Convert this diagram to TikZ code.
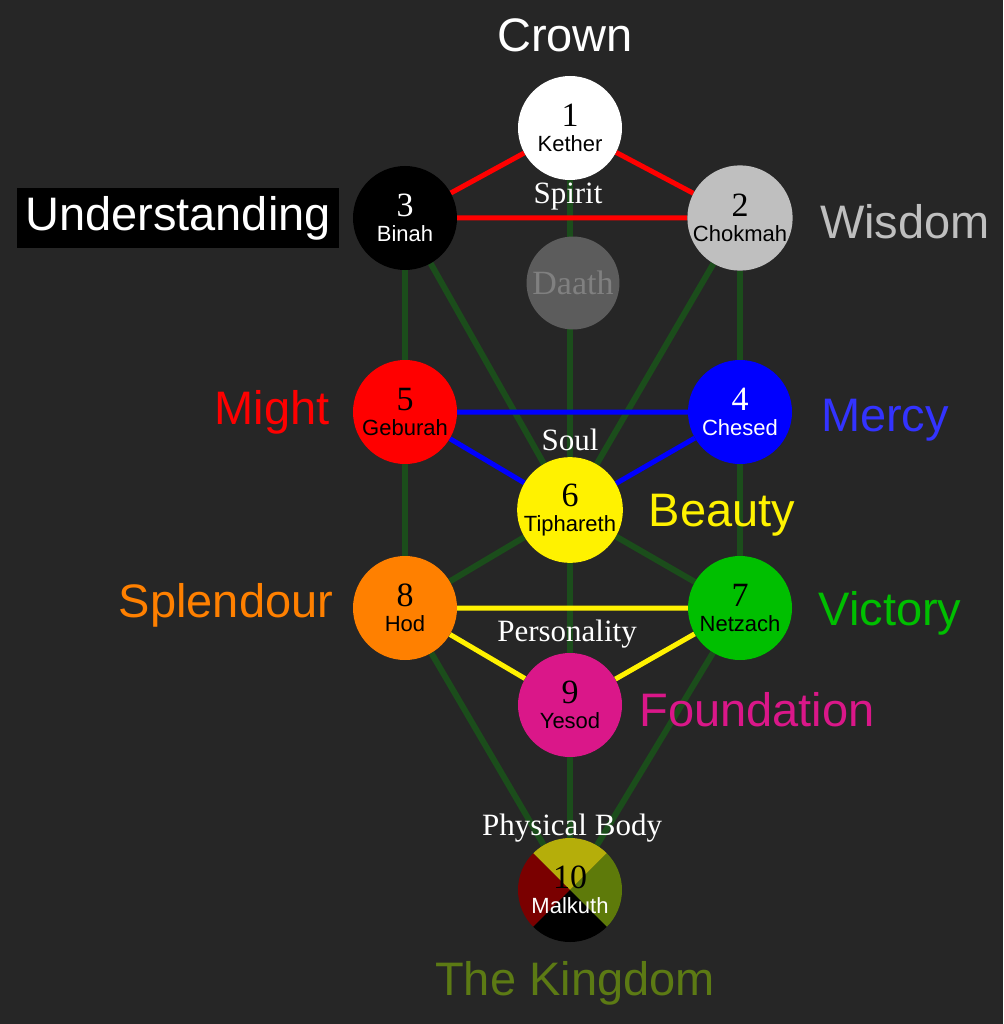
\documentclass[tikz,border=0pt]{standalone}
\usepackage{fontspec}
\setmainfont{Liberation Sans}
\newfontfamily\papyr{Liberation Serif}
\usetikzlibrary{positioning}
\definecolor{bgdark}{HTML}{262626}
\definecolor{pathgreen}{HTML}{1B4D1B}
\definecolor{kingolive}{HTML}{5C7A14}
\definecolor{mqtop}{HTML}{B5AE0A}
\definecolor{mqleft}{HTML}{7A0000}
\definecolor{mqright}{HTML}{5E7A0A}
\pgfdeclarelayer{bg}
\pgfsetlayers{bg,main}
\newcommand{\numf}{\papyr\fontsize{34}{34}\selectfont}
\newcommand{\namef}{\fontsize{22}{24}\selectfont}
\begin{document}
\begin{tikzpicture}[x=1pt,y=-1pt,
  sephira/.style={circle,minimum size=104pt,inner sep=0pt,align=center},
  title/.style={font=\fontsize{47}{49}\selectfont},
  path label/.style={font=\papyr\fontsize{31}{33}\selectfont,text=white},
  green path/.style={line width=6pt,pathgreen},
  red path/.style={line width=5pt,red},
  blue path/.style={line width=5pt,blue},
  yellow path/.style={line width=5pt,yellow}]

  \node[sephira,fill=white,text=black] (1) at (570,128) {{\numf 1}\\[8pt]{\namef Kether}};
  \node[sephira,fill=black,text=white] (3) at (405,218) {{\numf 3}\\[8pt]{\namef Binah}};
  \node[sephira,fill=black!25,text=black] (2) at (740,218) {{\numf 2}\\[8pt]{\namef Chokmah}};
  \node[circle,minimum size=72pt,fill=white!25!bgdark,text=black!50,font=\papyr\fontsize{34}{34}\selectfont] (d) at (573,283) {Daath};
  \node[sephira,fill=red,text=black] (5) at (405,412) {{\numf 5}\\[8pt]{\namef Geburah}};
  \node[sephira,fill=blue,text=white] (4) at (740,412) {{\numf 4}\\[8pt]{\namef Chesed}};
  \node[sephira,fill=yellow,text=black] (6) at (570,510) {{\numf 6}\\[8pt]{\namef Tiphareth}};
  \node[sephira,fill=orange,text=black] (8) at (405,608) {{\numf 8}\\[8pt]{\namef Hod}};
  \node[sephira,fill=green!75!black,text=black] (7) at (740,608) {{\numf 7}\\[8pt]{\namef Netzach}};
  \node[sephira,fill=magenta!90!black,text=black] (9) at (570,705) {{\numf 9}\\[8pt]{\namef Yesod}};
  \node[sephira,text=white,path picture={
      \fill[mqtop] (path picture bounding box.center) -- ++(-80,-80) -- ++(160,0) -- cycle;
      \fill[mqleft] (path picture bounding box.center) -- ++(-80,-80) -- ++(0,160) -- cycle;
      \fill[mqright] (path picture bounding box.center) -- ++(80,-80) -- ++(0,160) -- cycle;
      \fill[black] (path picture bounding box.center) -- ++(-80,80) -- ++(160,0) -- cycle;}]
    (10) at (570,890) {{\numf\color{black} 10}\\[8pt]{\namef Malkuth}};

  % titles
  \node[title,text=white] (crown) at (565,35) {Crown};
  \node[title,fill=black,text=white,inner sep=8pt] (underst) at (178,218) {Understanding};
  \node[title,text=black!25] (wisdom) at (905,222) {Wisdom};
  \node[title,text=red] (might) at (272,412) {Might};
  \node[title,text=blue!80!white] (mercy) at (885,420) {Mercy};
  \node[title,text=yellow] (beauty) at (722,515) {Beauty};
  \node[title,text=orange] (splend) at (226,605) {Splendour};
  \node[title,text=green!75!black] (victory) at (890,613) {Victory};
  \node[title,text=magenta!90!black] (found) at (757,710) {Foundation};
  \node[title,text=kingolive] (kingdom) at (575,983) {The Kingdom};
  \node[path label] (spirit) at (568,197) {Spirit};
  \node[path label] (soul) at (570,440) {Soul};
  \node[path label] (person) at (567,634) {Personality};
  \node[path label] (body) at (572,828) {Physical Body};

  \begin{pgfonlayer}{bg}
    \fill[bgdark] (0,0) rectangle (1003,1024);
    \foreach \a/\b in {3/5,2/4,3/6,2/6,1/6,5/8,4/7,6/8,6/7,6/9,8/10,7/10,9/10}
      \draw[green path] (\a) -- (\b);
    \draw[red path] (1) -- (3) (1) -- (2) (3) -- (2);
    \draw[blue path] (5) -- (4) (5) -- (6) (4) -- (6);
    \draw[yellow path] (8) -- (7) (8) -- (9) (7) -- (9);
  \end{pgfonlayer}
\end{tikzpicture}
\end{document}
